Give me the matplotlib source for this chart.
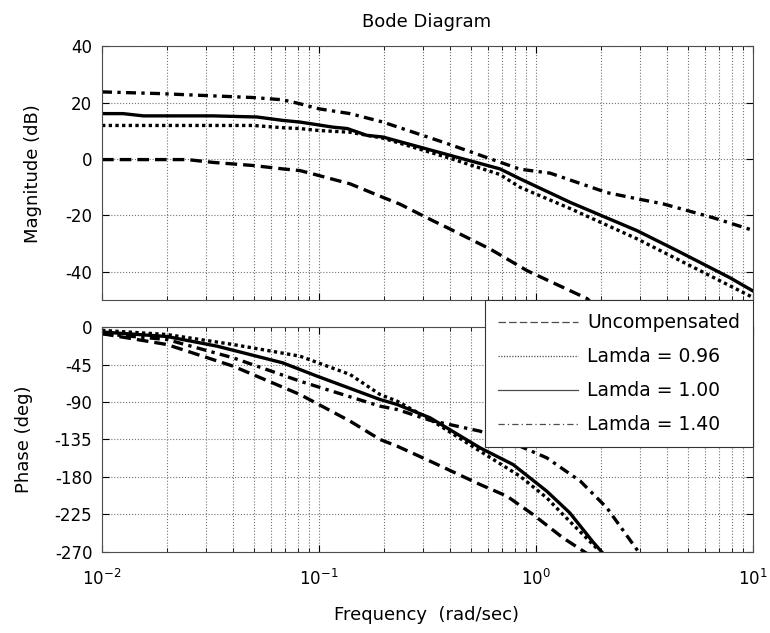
import numpy as np
import matplotlib
matplotlib.use("Agg")
import matplotlib.pyplot as plt
from matplotlib.lines import Line2D
from matplotlib.ticker import LogLocator, NullFormatter

plt.rcParams['font.family'] = ['DejaVu Sans']
plt.rcParams['mathtext.fontset'] = 'dejavusans'
plt.rcParams['axes.unicode_minus'] = False

# --- magnitude (dB) ---
w_unc_mag = [0.01, 0.0247, 0.0325, 0.0497, 0.068, 0.0817, 0.0938, 0.139, 0.197, 0.236, 0.335, 0.389, 0.614, 0.91, 1.72, 1.85]
unc_mag = [-0.2, -0.2, -1.2, -2.3, -3.5, -4.1, -5.3, -8.8, -13.6, -16.0, -21.9, -24.3, -31.9, -39.6, -49.5, -52.0]

w_l096_mag = [0.01, 0.0497, 0.068, 0.0817, 0.1, 0.139, 0.197, 0.4, 0.682, 0.843, 1.44, 2.92, 10]
l096_mag = [11.9, 11.9, 11.1, 10.8, 10.1, 9.5, 7.4, 0.3, -5.5, -10.0, -17.6, -28.3, -49.1]

w_l100_mag = [0.01, 0.0125, 0.0155, 0.0325, 0.0518, 0.068, 0.0817, 0.116, 0.135, 0.166, 0.197,
              0.402, 0.682, 0.843, 1.44, 2.92, 4.47, 7.83, 10]
l100_mag = [16.1, 16.1, 15.3, 15.3, 14.9, 13.7, 13.1, 11.3, 10.8, 8.4, 7.8,
            1.3, -3.5, -7.0, -15.4, -25.4, -32.5, -42.1, -46.8]

w_l140_mag = [0.01, 0.0185, 0.028, 0.0497, 0.068, 0.0817, 0.1, 0.139, 0.197, 0.389, 0.594, 0.843,
              1.16, 2.12, 2.92, 3.85, 6.54, 10]
l140_mag = [23.8, 23.2, 22.6, 21.8, 21.0, 19.6, 17.8, 16.1, 13.1, 5.5, 0.5, -3.6,
            -5.0, -11.9, -14.1, -15.9, -20.8, -25.3]

# --- phase (deg) ---
w_unc_ph = [0.01, 0.0199, 0.0402, 0.0817, 0.139, 0.191, 0.229, 0.325, 0.552, 0.734, 0.968, 1.33, 1.72]
unc_ph = [-8, -21, -47, -81, -113, -135, -143, -161, -189, -203, -225, -253, -272]

w_l096_ph = [0.01, 0.0199, 0.0402, 0.0817, 0.139, 0.191, 0.229, 0.325, 0.552, 0.843, 1.12, 1.33, 1.91]
l096_ph = [-4, -9, -21, -35, -57, -81, -89, -111, -149, -179, -205, -225, -266]

w_l100_ph = [0.01, 0.0199, 0.0339, 0.068, 0.098, 0.191, 0.229, 0.325, 0.552, 0.783, 1.12, 1.43, 1.83, 2.04]
l100_ph = [-6, -11.4, -23, -43, -59, -87, -93, -109, -145, -165, -197, -223, -258, -272]

w_l140_ph = [0.01, 0.0199, 0.0402, 0.0817, 0.191, 0.229, 0.325, 0.552, 0.843, 1.12, 1.60, 2.12, 2.95]
l140_ph = [-8, -15, -37, -65, -95, -99, -112, -125, -143, -157, -185, -217, -269]

labels = ['Uncompensated', 'Lamda = 0.96', 'Lamda = 1.00', 'Lamda = 1.40']
styles = [(0, (3.5, 1.8)), (0, (1, 1)), '-', (0, (3, 1.6, 1, 1.6))]
legend_styles = [(0, (6, 2.5)), (0, (1, 1.2)), '-', (0, (5, 2.5, 1, 2.5))]

fig = plt.figure(figsize=(7.7, 6.33), dpi=100)
ax1 = fig.add_axes([0.1325, 0.526, 0.8455, 0.401])
ax2 = fig.add_axes([0.1325, 0.128, 0.8455, 0.3554])

mag_sets = [(w_unc_mag, unc_mag), (w_l096_mag, l096_mag), (w_l100_mag, l100_mag), (w_l140_mag, l140_mag)]
ph_sets = [(w_unc_ph, unc_ph), (w_l096_ph, l096_ph), (w_l100_ph, l100_ph), (w_l140_ph, l140_ph)]

for (w, m), ls in zip(mag_sets, styles):
    ax1.semilogx(w, m, color='black', lw=2.4, linestyle=ls, dash_capstyle='butt')
for (w, p), ls in zip(ph_sets, styles):
    ax2.semilogx(w, p, color='black', lw=2.4, linestyle=ls, dash_capstyle='butt')

ax1.set_ylim(-50, 40)
ax1.set_yticks([40, 20, 0, -20, -40])
ax2.set_ylim(-270, 0)
ax2.set_yticks([0, -45, -90, -135, -180, -225, -270])

for ax in (ax1, ax2):
    ax.set_xlim(0.01, 10)
    ax.xaxis.set_major_locator(LogLocator(base=10, numticks=10))
    ax.xaxis.set_minor_locator(LogLocator(base=10, subs=np.arange(2, 10), numticks=20))
    ax.xaxis.set_minor_formatter(NullFormatter())
    ax.grid(True, which='both', axis='x', color='0.45', linestyle=':', lw=0.8)
    ax.grid(True, which='major', axis='y', color='0.45', linestyle=':', lw=0.8)
    ax.tick_params(which='both', direction='in', top=True, right=True, labelsize=12, colors='black')
    ax.tick_params(which='major', length=5)
    ax.tick_params(which='minor', length=3)
    ax.tick_params(axis='y', pad=7)
    for s in ax.spines.values():
        s.set_color('0.3')
        s.set_linewidth(0.8)

ax1.tick_params(labelbottom=False)
ax1.set_ylabel('Magnitude (dB)', fontsize=13)
ax2.set_ylabel('Phase (deg)', fontsize=13)
ax1.yaxis.set_label_coords(-0.092, 0.5)
ax2.yaxis.set_label_coords(-0.106, 0.5)
ax2.tick_params(axis='x', pad=12)

fig.text(0.5545, 0.966, 'Bode Diagram', ha='center', va='center', fontsize=13)
fig.text(0.5545, 0.028, 'Frequency  (rad/sec)', ha='center', va='center', fontsize=13)

handles = [Line2D([], [], color='0.3', lw=0.9, linestyle=ls) for ls in legend_styles]
leg = ax2.legend(handles, labels, loc='upper right', bbox_to_anchor=(1.0, 1.12), borderaxespad=0,
                 fontsize=13.5, handlelength=4.3, handletextpad=0.45, borderpad=0.7,
                 labelspacing=0.8, fancybox=False, framealpha=1, edgecolor='0.2')
leg.get_frame().set_linewidth(0.8)

fig.savefig('out.png', dpi=100)
